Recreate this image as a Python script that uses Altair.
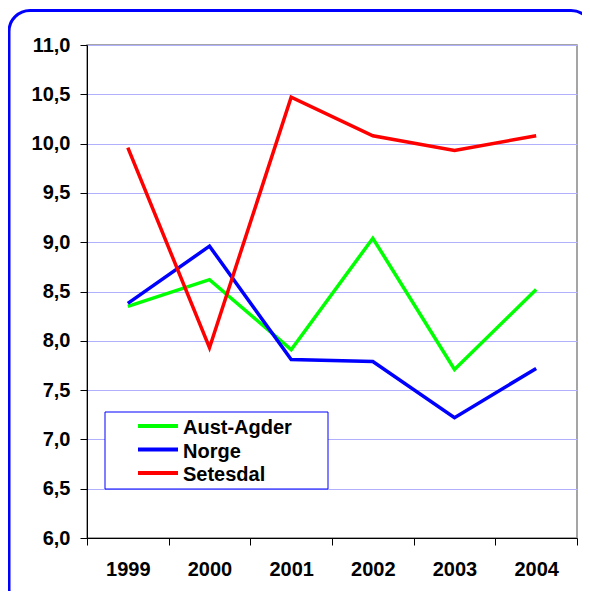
import altair as alt
import pandas as pd

years = ["1999", "2000", "2001", "2002", "2003", "2004"]
series = ["Aust-Agder", "Norge", "Setesdal"]
aust_agder = [8.35, 8.62, 7.91, 9.04, 7.71, 8.52]
norge = [8.38, 8.96, 7.81, 7.79, 7.22, 7.72]
setesdal = [9.96, 7.93, 10.47, 10.08, 9.93, 10.08]
colors = ["#00ff00", "#0000ff", "#ff0000"]

rows = []
for name, vals in zip(series, [aust_agder, norge, setesdal]):
    for y, v in zip(years, vals):
        rows.append({"year": y, "value": v, "series": name})
df = pd.DataFrame(rows)
legend_df = pd.DataFrame({"series": series})

FONT = "Liberation Sans"
one = pd.DataFrame({"a": [0]})
color_scale = alt.Scale(domain=series, range=colors)

frame = alt.Chart(one).mark_rect(
    filled=False, stroke="#0000ff", strokeWidth=3, cornerRadius=21
).encode(
    x=alt.value(-78), x2=alt.value(505), y=alt.value(-34.5), y2=alt.value(565)
)

lines = alt.Chart(df).mark_line(strokeWidth=3.5).encode(
    x=alt.X(
        "year:O",
        sort=years,
        scale=alt.Scale(type="band", paddingInner=0, paddingOuter=0),
        axis=alt.Axis(
            title=None, labelAngle=0, tickBand="extent", grid=False,
            domainColor="black", tickColor="black", tickSize=7,
            labelFont=FONT, labelFontSize=20, labelFontWeight="bold",
            labelColor="black", labelPadding=14, zindex=1,
        ),
    ),
    y=alt.Y(
        "value:Q",
        scale=alt.Scale(domain=[6, 11], nice=False, zero=False),
        axis=alt.Axis(
            title=None, values=[6 + 0.5 * i for i in range(11)],
            labelExpr="replace(format(datum.value, '.1f'), '.', ',')",
            grid=True, gridColor="#b0b0fc", gridWidth=1.2,
            domainColor="black", tickColor="black", tickSize=7,
            labelFont=FONT, labelFontSize=20, labelFontWeight="bold",
            labelColor="black", labelPadding=10, zindex=0,
        ),
    ),
    color=alt.Color("series:N", sort=series, scale=color_scale, legend=None),
)

legend_box = alt.Chart(one).mark_rect(
    filled=True, color="#ffffff", opacity=1, stroke="#0000ff", strokeWidth=1
).encode(
    x=alt.value(18), x2=alt.value(241), y=alt.value(367), y2=alt.value(444)
)

leg_y = alt.Y(
    "series:N", sort=series, axis=None,
    scale=alt.Scale(type="point", domain=series, range=[381, 428], padding=0),
)
legend_rules = alt.Chart(legend_df).mark_rule(strokeWidth=4).encode(
    y=leg_y, x=alt.value(51), x2=alt.value(91),
    color=alt.Color("series:N", sort=series, scale=color_scale, legend=None),
)
legend_text = alt.Chart(legend_df).mark_text(
    align="left", baseline="middle", dy=2, font=FONT, fontSize=20,
    fontWeight="bold", color="black",
).encode(y=leg_y, x=alt.value(96), text="series:N")

legend_layer = alt.layer(legend_box, legend_rules, legend_text)

chart = alt.layer(frame, lines, legend_layer).resolve_scale(
    y="independent"
).properties(
    width=490, height=493,
    autosize=alt.AutoSizeParams(type="none"),
    padding={"left": 79, "top": 37, "right": 5, "bottom": 53},
).configure_view(stroke="#888888", strokeWidth=1.5)

chart.save("out.html", embed_options={"renderer": "svg", "actions": False})
